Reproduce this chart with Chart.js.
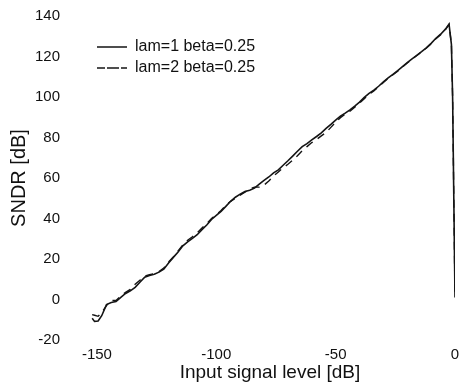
<!DOCTYPE html>
<html>
<head>
<meta charset="utf-8">
<script src="https://cdn.jsdelivr.net/npm/chart.js@4/dist/chart.umd.min.js"></script>
<style>
  html, body { margin: 0; padding: 0; background: #ffffff; }
  #c { display: block; }
</style>
</head>
<body>
<canvas id="c" width="460" height="386"></canvas>
<script>
// ---- data ----
const inputLevel = [-152, -151, -149.5, -148, -146, -144, -142, -140, -138, -136, -134, -132, -130, -128, -126, -124, -122, -120, -118, -116, -114, -112, -110, -108, -106, -104, -102, -100, -98, -96, -94, -92, -90, -88, -86, -84, -82, -80, -78, -76, -74, -72, -70, -68, -66, -64, -62, -60, -58, -56, -54, -52, -50, -48, -46, -44, -42, -40, -38, -36, -34, -32, -30, -28, -26, -24, -22, -20, -18, -16, -14, -12, -10, -8, -6, -4, -2.5, -1.5, -1, -0.5, 0];

const sndrLam1 = [-9.3, -10.8, -10.6, -8.0, -2.5, -1.5, -1.0, 1.0, 3.0, 4.3, 6.0, 8.5, 11.0, 11.8, 12.5, 13.5, 15.0, 18.0, 20.8, 23.5, 26.5, 28.5, 30.2, 32.0, 34.5, 36.8, 39.5, 41.5, 43.5, 46.0, 48.5, 50.5, 52.0, 53.3, 54.0, 55.0, 57.0, 58.8, 60.5, 62.5, 64.0, 66.3, 68.5, 70.8, 73.2, 75.5, 77.0, 78.8, 80.5, 82.3, 84.5, 86.5, 88.6, 90.5, 92.0, 93.6, 95.5, 97.5, 99.8, 101.8, 103.4, 105.3, 107.5, 109.4, 111.2, 113.0, 115.0, 117.0, 118.8, 120.6, 122.4, 124.3, 126.5, 129.0, 131.0, 133.5, 136.0, 126, 100, 50, 1];

const sndrLam2 = [-7.5, -7.8, -8.3, -6.5, -3.0, -0.5, -0.5, 1.8, 3.5, 5.0, 7.5, 9.5, 11.5, 12.3, 12.8, 13.8, 15.5, 18.5, 21.0, 24.0, 27.0, 29.3, 31.0, 33.0, 35.3, 37.5, 40.0, 41.8, 44.0, 46.5, 48.5, 50.0, 51.5, 53.0, 54.5, 55.5, 55.5, 56.5, 58.5, 61.0, 63.0, 65.0, 66.8, 68.8, 71.0, 73.5, 75.5, 77.5, 79.0, 80.8, 82.5, 85.0, 87.5, 89.8, 91.5, 93.0, 95.0, 97.0, 99.2, 101.3, 103.0, 105.0, 107.2, 109.2, 111.0, 112.8, 114.8, 116.8, 118.7, 120.5, 122.3, 124.2, 126.3, 128.8, 130.8, 133.3, 135.8, 126, 100, 50, 1];

const seriesLabels = ['lam=1 beta=0.25', 'lam=2 beta=0.25'];
const xTickValues = [-150, -100, -50, 0];
const yTickValues = [-20, 0, 20, 40, 60, 80, 100, 120, 140];
const xTitle = 'Input signal level [dB]';
const yTitle = 'SNDR [dB]';

// ---- chart ----
Chart.defaults.font.family = '"Liberation Sans", Arial, Helvetica, sans-serif';
Chart.defaults.color = '#111111';

const toPoints = (ys) => inputLevel.map((x, i) => ({ x: x, y: ys[i] }));

// place the in-plot legend at its spot in the upper-left of the plot
const legendShift = {
  id: 'legendShift',
  afterLayout(chart) {
    const lg = chart.legend;
    if (lg) { lg.left += 7; lg.right += 7; lg.top += 34; lg.bottom += 34; }
  }
};

new Chart(document.getElementById('c'), {
  type: 'scatter',
  data: {
    datasets: [
      {
        label: seriesLabels[0],
        data: toPoints(sndrLam1),
        showLine: true,
        borderColor: '#141414',
        backgroundColor: 'rgba(0,0,0,0)',
        borderWidth: 1.6,
        pointRadius: 0,
        tension: 0,
        fill: false
      },
      {
        label: seriesLabels[1],
        data: toPoints(sndrLam2),
        showLine: true,
        borderColor: '#141414',
        backgroundColor: 'rgba(0,0,0,0)',
        borderWidth: 1.4,
        borderDash: [8, 6],
        pointRadius: 0,
        tension: 0,
        fill: false
      }
    ]
  },
  options: {
    responsive: false,
    animation: false,
    layout: { padding: { left: 0, top: 16, right: 5, bottom: 0 } },
    plugins: {
      legend: {
        position: 'chartArea',
        align: 'start',
        labels: {
          boxWidth: 30,
          boxHeight: 0,
          padding: 5,
          color: '#111111',
          font: { size: 16 }
        }
      },
      tooltip: { enabled: false }
    },
    scales: {
      x: {
        type: 'linear',
        min: -155,
        max: 0,
        grid: { display: false, drawTicks: false },
        border: { display: false },
        ticks: { font: { size: 15 }, padding: 6, color: '#111111' },
        afterBuildTicks: (s) => { s.ticks = xTickValues.map(v => ({ value: v })); },
        afterFit: (s) => { s.height = 46; s.paddingLeft = 0; s.paddingRight = 0; },
        title: { display: true, text: xTitle, font: { size: 19 }, color: '#111111', padding: { top: 0, bottom: 1.5 } }
      },
      y: {
        type: 'linear',
        min: -20,
        max: 140,
        grid: { display: false, drawTicks: false },
        border: { display: false },
        ticks: { font: { size: 15 }, padding: 25, color: '#111111' },
        afterBuildTicks: (s) => { s.ticks = yTickValues.map(v => ({ value: v })); },
        afterFit: (s) => { s.width = 85; s.paddingTop = 0; s.paddingBottom = 0; },
        title: { display: true, text: yTitle, font: { size: 20 }, color: '#111111', padding: { top: 7, bottom: 0 } }
      }
    }
  },
  plugins: [legendShift]
});
</script>
</body>
</html>
